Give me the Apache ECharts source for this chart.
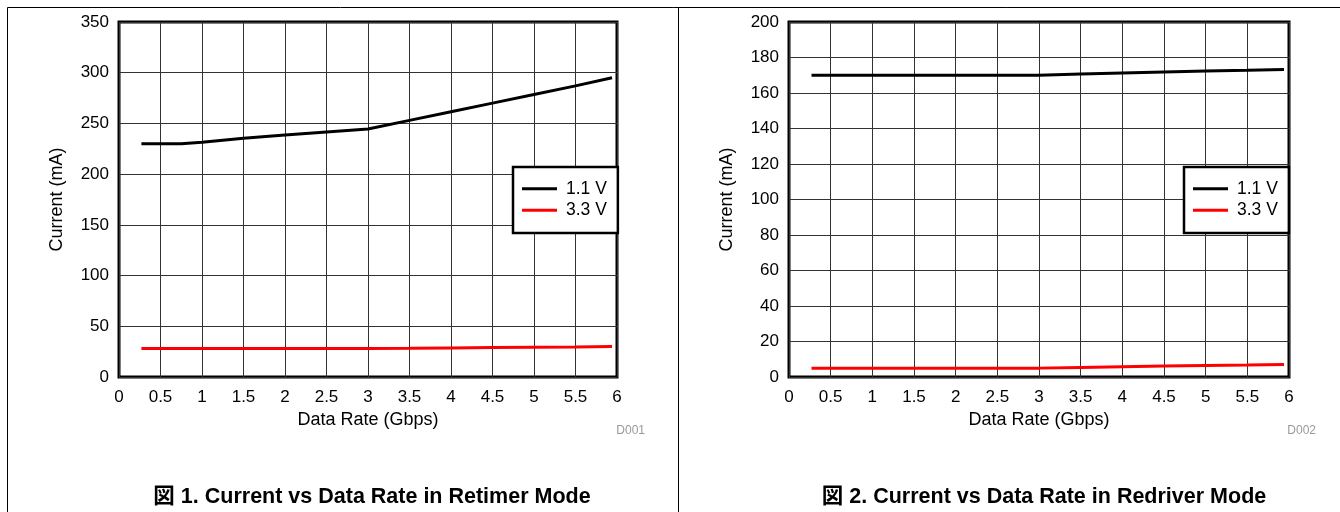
<!DOCTYPE html>
<html>
<head>
<meta charset="utf-8">
<script src="https://cdn.jsdelivr.net/npm/echarts@6/dist/echarts.min.js"></script>
<style>html,body{margin:0;padding:0;background:#fff;}#main{width:1340px;height:512px;}</style>
</head>
<body>
<div id="main"></div>
<script>
// ---- data ----
const dataRate = [0.27, 0.75, 1, 1.5, 2, 2.5, 3, 3.5, 4, 4.5, 5, 5.5, 5.94];
const retimer11 = [230, 230, 231.5, 235.5, 238.5, 241.5, 244.5, 253, 261.5, 270, 278.5, 287, 295];
const retimer33 = [28, 28, 28, 28, 28, 28, 28, 28.3, 28.7, 29, 29.3, 29.6, 30];
const redriver11 = [170, 170, 170, 170, 170, 170, 170, 170.7, 171.3, 171.9, 172.4, 172.8, 173.2];
const redriver33 = [5, 5, 5, 5, 5, 5, 5, 5.4, 5.8, 6.2, 6.5, 6.8, 7.1];
const seriesNames = ['1.1 V', '3.3 V'];
const xTickLabels = ['0','0.5','1','1.5','2','2.5','3','3.5','4','4.5','5','5.5','6'];
const titles = ['図 1. Current vs Data Rate in Retimer Mode', '図 2. Current vs Data Rate in Redriver Mode'];
const codes = ['D001', 'D002'];
const xName = 'Data Rate (Gbps)';
const yName = 'Current (mA)';

const FONT = "'Liberation Sans', Arial, 'Noto Sans CJK JP', sans-serif";
const pair = (xs, ys) => xs.map((x, i) => [x, ys[i]]);

const grids = [
  {left: 119, top: 22, width: 498, height: 355},
  {left: 789, top: 22, width: 500, height: 355}
];
const yCfg = [{max: 350, interval: 50}, {max: 200, interval: 20}];

function xAxis(i) {
  return {
    type: 'value', gridIndex: i, min: 0, max: 6, interval: 0.5,
    name: xName, nameLocation: 'middle', nameGap: 33,
    nameTextStyle: {fontFamily: FONT, fontSize: 18, color: '#000'},
    axisLine: {show: false}, axisTick: {show: false},
    axisLabel: {fontFamily: FONT, fontSize: 17, color: '#000', margin: 12,
      formatter: v => xTickLabels[Math.round(v * 2)]},
    splitLine: {show: true, lineStyle: {color: '#333', width: 1}}
  };
}
function yAxis(i) {
  return {
    type: 'value', gridIndex: i, min: 0, max: yCfg[i].max, interval: yCfg[i].interval,
    name: yName, nameLocation: 'middle', nameGap: 53,
    nameTextStyle: {fontFamily: FONT, fontSize: 18, color: '#000'},
    axisLine: {show: false}, axisTick: {show: false},
    axisLabel: {fontFamily: FONT, fontSize: 17, color: '#000', margin: 10},
    splitLine: {show: true, lineStyle: {color: '#333', width: 1}}
  };
}
function lineSeries(name, data, color, i) {
  return {
    type: 'line', name: name, xAxisIndex: i, yAxisIndex: i,
    data: data, showSymbol: false, symbol: 'none', smooth: false,
    lineStyle: {color: color, width: 3}, itemStyle: {color: color},
    silent: true, animation: false
  };
}
function legend(left) {
  return {
    data: seriesNames, orient: 'vertical', left: left, top: 167,
    icon: 'rect', itemWidth: 35, itemHeight: 3, itemGap: 4,
    padding: [13, 11, 14, 9],
    backgroundColor: '#fff', borderColor: '#000', borderWidth: 2.5,
    textStyle: {fontFamily: FONT, fontSize: 17.5, color: '#000', lineHeight: 17, padding: [0, 0, 0, 4]},
    selectedMode: false
  };
}

const option = {
  animation: false,
  backgroundColor: '#fff',
  grid: grids.map(g => Object.assign({show: true, borderColor: '#000', borderWidth: 3, backgroundColor: 'transparent', containLabel: false}, g)),
  xAxis: [xAxis(0), xAxis(1)],
  yAxis: [yAxis(0), yAxis(1)],
  legend: [legend(513), legend(1184)],
  series: [
    lineSeries(seriesNames[0], pair(dataRate, retimer11), '#000000', 0),
    lineSeries(seriesNames[1], pair(dataRate, retimer33), '#ff0000', 0),
    lineSeries(seriesNames[0], pair(dataRate, redriver11), '#000000', 1),
    lineSeries(seriesNames[1], pair(dataRate, redriver33), '#ff0000', 1)
  ],
  graphic: [
    {type: 'line', shape: {x1: 7.5, y1: 7.5, x2: 1340, y2: 7.5}, style: {stroke: '#000', lineWidth: 1}, silent: true},
    {type: 'line', shape: {x1: 7.5, y1: 7.5, x2: 7.5, y2: 512}, style: {stroke: '#000', lineWidth: 1}, silent: true},
    {type: 'line', shape: {x1: 678.5, y1: 7.5, x2: 678.5, y2: 512}, style: {stroke: '#000', lineWidth: 1}, silent: true},
    {type: 'text', x: 372, y: 497, style: {text: titles[0], fontFamily: FONT, fontSize: 21.5, fontWeight: 'bold', fill: '#000', align: 'center', verticalAlign: 'middle'}, silent: true},
    {type: 'text', x: 1044, y: 497, style: {text: titles[1], fontFamily: FONT, fontSize: 21.5, fontWeight: 'bold', fill: '#000', align: 'center', verticalAlign: 'middle'}, silent: true},
    {type: 'text', x: 645, y: 431, style: {text: codes[0], fontFamily: FONT, fontSize: 12, fill: '#999', align: 'right', verticalAlign: 'middle'}, silent: true},
    {type: 'text', x: 1316, y: 431, style: {text: codes[1], fontFamily: FONT, fontSize: 12, fill: '#999', align: 'right', verticalAlign: 'middle'}, silent: true}
  ]
};
chart = echarts.init(document.getElementById('main'));
chart.setOption(option);
</script>
</body>
</html>
